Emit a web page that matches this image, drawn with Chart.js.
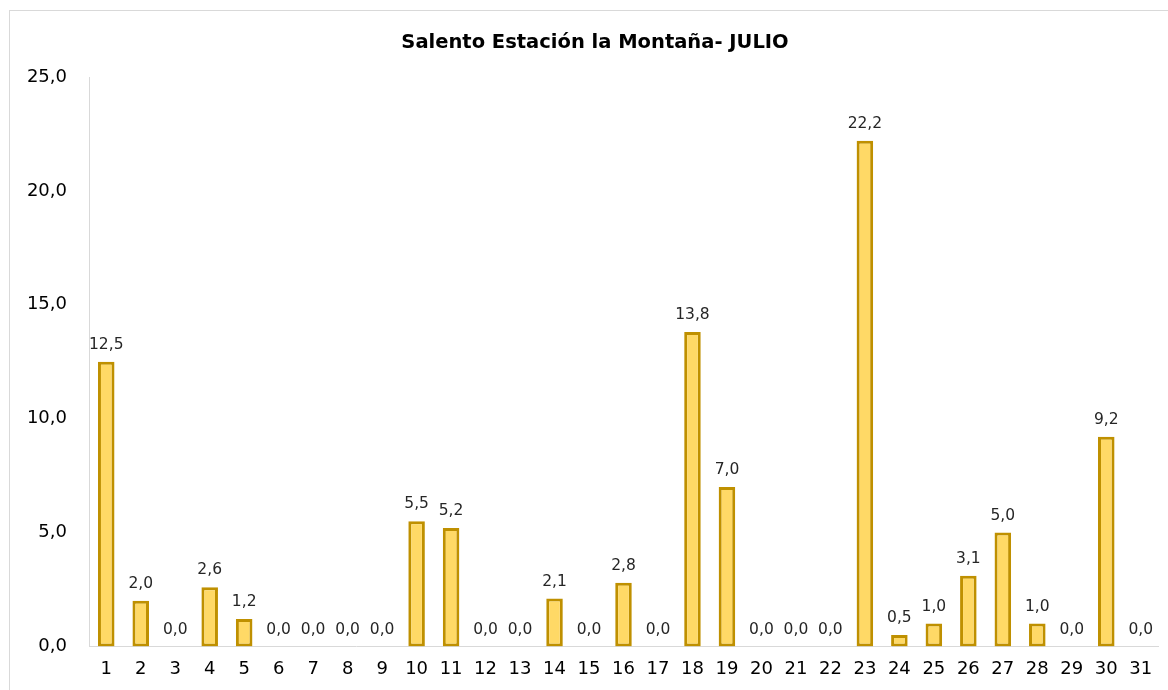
<!DOCTYPE html>
<html>
<head>
<meta charset="utf-8">
<script src="https://cdn.jsdelivr.net/npm/chart.js@4.4.0/dist/chart.umd.min.js"></script>
<style>
  html, body { margin: 0; padding: 0; background: #fff; overflow: hidden; }
  #frame { position: absolute; left: 9px; top: 10px; width: 1170px; height: 690px; border: 1px solid #d9d9d9; }
  #wrap { position: absolute; left: 0; top: 0; width: 1168px; height: 690px; }
</style>
</head>
<body>
<div id="frame"></div>
<div id="wrap"><canvas id="chart"></canvas></div>
<script>
// dias del mes
const days = Array.from({ length: 31 }, (_, i) => String(i + 1));
// precipitacion diaria (mm)
const rain = [12.5, 2.0, 0.0, 2.6, 1.2, 0.0, 0.0, 0.0, 0.0, 5.5,
              5.2, 0.0, 0.0, 2.1, 0.0, 2.8, 0.0, 13.8, 7.0, 0.0,
              0.0, 0.0, 22.2, 0.5, 1.0, 3.1, 5.0, 1.0, 0.0, 9.2, 0.0];
const yTicks = [0, 5, 10, 15, 20, 25];
const titleText = 'Salento Estación la Montaña- JULIO';

const fmt = v => v.toFixed(1).replace('.', ',');

// titulo centrado como en Excel (sobre todo el grafico, no el area)
const chartTitle = {
  id: 'chartTitle',
  afterDraw(chart) {
    const ctx = chart.ctx;
    ctx.save();
    ctx.font = 'bold 19.5px "DejaVu Sans"';
    ctx.fillStyle = '#000';
    ctx.textAlign = 'center';
    ctx.textBaseline = 'middle';
    ctx.fillText(titleText, 595, 43);
    ctx.restore();
  }
};

// etiquetas encima de cada barra
const barLabels = {
  id: 'barLabels',
  afterDatasetsDraw(chart) {
    const ctx = chart.ctx;
    const meta = chart.getDatasetMeta(0);
    ctx.save();
    ctx.font = '15.5px "DejaVu Sans"';
    ctx.fillStyle = '#262626';
    ctx.textAlign = 'center';
    ctx.textBaseline = 'bottom';
    meta.data.forEach((bar, i) => {
      ctx.fillText(fmt(rain[i]), bar.x, bar.y - 9);
    });
    ctx.restore();
  }
};

new Chart(document.getElementById('chart'), {
  type: 'bar',
  data: {
    labels: days,
    datasets: [{
      data: rain,
      backgroundColor: '#FFD966',
      borderColor: '#BF9000',
      borderWidth: 3,
      borderSkipped: false,
      barPercentage: 0.48,
      categoryPercentage: 1
    }]
  },
  options: {
    responsive: true,
    maintainAspectRatio: false,
    animation: false,
    layout: { padding: { left: 12, right: 10, top: 77, bottom: -2 } },
    plugins: {
      legend: { display: false },
      tooltip: { enabled: false },
      title: { display: false }
    },
    scales: {
      x: {
        grid: { display: false, drawTicks: false },
        border: { color: '#d9d9d9', width: 1 },
        ticks: { color: '#000', padding: 12, font: { family: '"DejaVu Sans"', size: 18 } }
      },
      y: {
        min: 0,
        max: 25,
        afterFit(scale) { scale.width = 77; },
        afterBuildTicks(scale) { scale.ticks = yTicks.map(v => ({ value: v })); },
        grid: { display: false, drawTicks: false },
        border: { color: '#d9d9d9', width: 1 },
        ticks: {
          color: '#000',
          padding: 22,
          font: { family: '"DejaVu Sans"', size: 18 },
          callback: v => fmt(v)
        }
      }
    }
  },
  plugins: [barLabels, chartTitle]
});
</script>
</body>
</html>
